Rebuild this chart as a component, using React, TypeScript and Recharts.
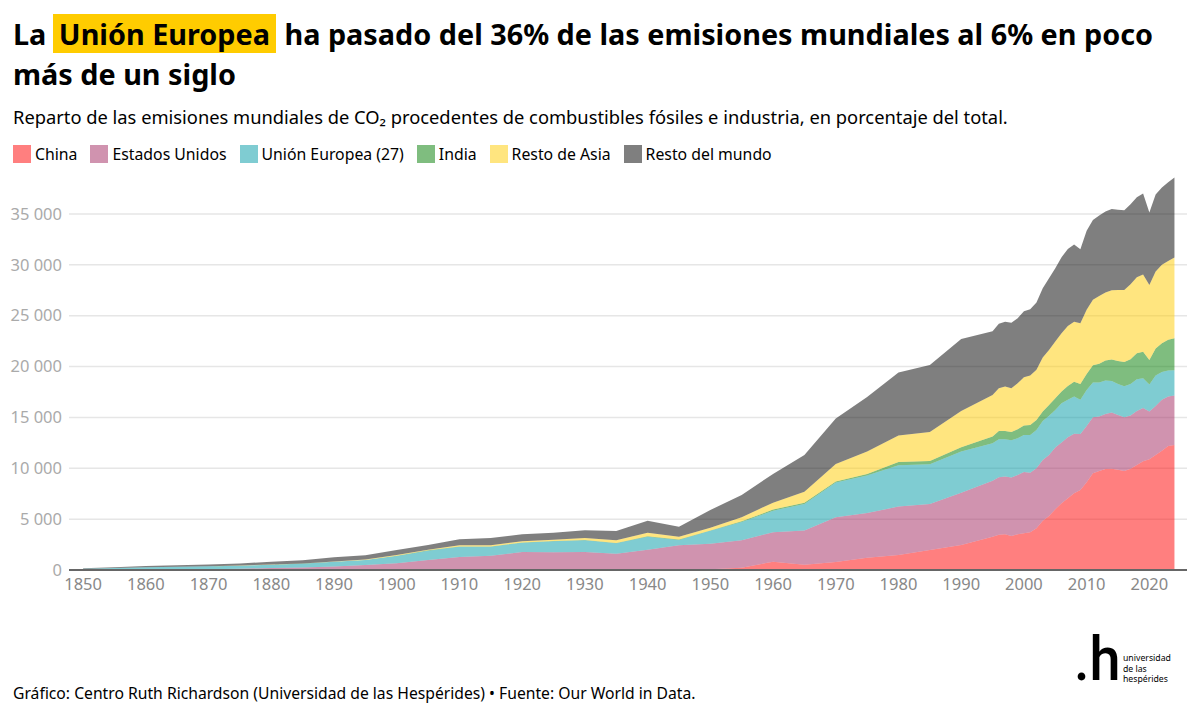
import React from "react";
import { AreaChart, Area, XAxis, YAxis, CartesianGrid, Legend } from "recharts";

const years = [
  1850, 1855, 1860, 1865, 1870, 1875, 1880, 1885, 1890, 1895,
  1900, 1905, 1910, 1915, 1920, 1925, 1930, 1935, 1940, 1945,
  1950, 1955, 1960, 1965, 1970, 1975, 1980, 1985, 1990, 1995,
  1996, 1997, 1998, 1999, 2000, 2001, 2002, 2003, 2004, 2005,
  2006, 2007, 2008, 2009, 2010, 2011, 2012, 2013, 2014, 2015,
  2016, 2017, 2018, 2019, 2020, 2021, 2022, 2023, 2024,
];

const china = [
  0, 0, 0, 0, 0, 0, 0, 0, 0, 0,
  0, 10, 10, 10, 10, 20, 20, 20, 40, 30,
  70, 230, 820, 520, 790, 1210, 1470, 1970, 2460, 3270,
  3470, 3510, 3340, 3510, 3610, 3700, 4100, 4850, 5310, 5970,
  6550, 7050, 7540, 7870, 8620, 9510, 9730, 9930, 9960, 9860,
  9730, 9960, 10320, 10690, 10880, 11310, 11730, 12190, 12290,
];

const estadosUnidos = [
  10, 20, 50, 60, 80, 130, 190, 250, 350, 480,
  660, 970, 1270, 1400, 1760, 1720, 1750, 1580, 1960, 2400,
  2520, 2690, 2890, 3350, 4390, 4390, 4760, 4520, 5140, 5510,
  5640, 5670, 5740, 5830, 6030, 5870, 5900, 5970, 6000, 6060,
  5970, 6000, 5860, 5500, 5540, 5500, 5350, 5410, 5510, 5380,
  5280, 5220, 5310, 5240, 4690, 4820, 4990, 4860, 4850,
];

const unionEuropea = [
  110, 170, 210, 260, 280, 290, 330, 370, 450, 500,
  720, 920, 1010, 880, 910, 1080, 1150, 1020, 1270, 520,
  1270, 1800, 2120, 2620, 3410, 3680, 4060, 3900, 4040, 3670,
  3740, 3670, 3670, 3610, 3630, 3700, 3770, 3830, 3860, 3700,
  3870, 3670, 3640, 3350, 3540, 3410, 3340, 3280, 3110, 3050,
  3050, 3110, 3120, 2920, 2650, 2980, 2750, 2550, 2500,
];

const india = [
  0, 0, 0, 0, 0, 0, 0, 10, 10, 10,
  20, 30, 30, 30, 30, 40, 40, 40, 50, 50,
  30, 70, 110, 130, 100, 160, 330, 330, 420, 660,
  820, 820, 820, 880, 920, 990, 980, 920, 1050, 1150,
  1150, 1370, 1450, 1570, 1570, 1710, 1840, 1960, 2100, 2260,
  2390, 2430, 2550, 2590, 2430, 2670, 2820, 3020, 3140,
];

const restoAsia = [
  5, 5, 10, 10, 10, 15, 20, 20, 30, 40,
  70, 50, 110, 110, 110, 120, 190, 260, 350, 270,
  270, 390, 680, 1080, 1730, 2200, 2590, 2850, 3570, 4090,
  4190, 4360, 4290, 4530, 4760, 4850, 4920, 5310, 5410, 5570,
  5730, 5900, 5900, 5970, 6300, 6420, 6680, 6690, 6820, 6980,
  7080, 7370, 7480, 7600, 7370, 7550, 7700, 7760, 7930,
];

const restoMundo = [
  35, 65, 120, 140, 160, 215, 260, 300, 410, 410,
  500, 480, 590, 720, 690, 690, 750, 910, 1180, 990,
  1740, 2190, 2820, 3600, 4480, 5360, 6190, 6580, 7070, 6270,
  6330, 6360, 6430, 6390, 6480, 6520, 6620, 6820, 7050, 7210,
  7470, 7570, 7600, 7270, 7760, 7860, 7900, 7970, 7970, 7870,
  7830, 7860, 7860, 7960, 7110, 7580, 7610, 7740, 7870,
];

const yearTicks = [
  1850, 1860, 1870, 1880, 1890, 1900, 1910, 1920, 1930,
  1940, 1950, 1960, 1970, 1980, 1990, 2000, 2010, 2020,
];
const valueTicks = [0, 5000, 10000, 15000, 20000, 25000, 30000, 35000];

const series = [
  { key: "china", name: "China", color: "#ff0000" },
  { key: "usa", name: "Estados Unidos", color: "#a12860" },
  { key: "eu", name: "Unión Europea (27)", color: "#0099a5" },
  { key: "india", name: "India", color: "#007b00" },
  { key: "asia", name: "Resto de Asia", color: "#ffcc00" },
  { key: "world", name: "Resto del mundo", color: "#000000" },
];

const data = years.map((year, i) => ({
  year,
  china: china[i],
  usa: estadosUnidos[i],
  eu: unionEuropea[i],
  india: india[i],
  asia: restoAsia[i],
  world: restoMundo[i],
}));

const font = '"Noto Sans", sans-serif';

function ChartLegend() {
  return (
    <div style={{ display: "flex", fontSize: 15.8, lineHeight: "20px", color: "#000" }}>
      {series.map((s) => (
        <div key={s.key} style={{ display: "flex", alignItems: "center", marginRight: 13 }}>
          <span
            style={{
              width: 18,
              height: 18,
              marginRight: 4,
              background: s.color,
              opacity: 0.5,
              display: "inline-block",
            }}
          />
          {s.name}
        </div>
      ))}
    </div>
  );
}

export default function App() {
  return (
    <div
      style={{
        position: "absolute",
        left: 0,
        top: 0,
        width: 1200,
        height: 719,
        background: "#fff",
        fontFamily: font,
        overflow: "hidden",
      }}
    >
      <AreaChart
        width={1200}
        height={719}
        data={data}
        margin={{ top: 163, right: 13, bottom: 99, left: 0 }}
        style={{ position: "absolute", left: 0, top: 0 }}
      >
        <CartesianGrid vertical={false} stroke="#e6e6e6" strokeWidth={1.5} syncWithTicks horizontalValues={valueTicks} />
        <XAxis
          dataKey="year"
          type="number"
          domain={[1847.75, 2026]}
          ticks={yearTicks}
          interval={0}
          height={30}
          tickLine={false}
          axisLine={{ stroke: "#666666", strokeWidth: 2 }}
          tick={{ fill: "#888888", fontSize: 16.5, fontFamily: font }}
          tickMargin={2}
        />
        <YAxis
          width={69}
          domain={[0, 40000]}
          ticks={valueTicks}
          interval={0}
          tickLine={false}
          axisLine={false}
          tick={{ fill: "#aaaaaa", fontSize: 16.5, fontFamily: font }}
          tickMargin={1}
          tickFormatter={(v: number) => String(v).replace(/\B(?=(\d{3})+$)/g, " ")}
        />
        <Legend
          content={() => <ChartLegend />}
          wrapperStyle={{ position: "absolute", left: 13, top: 144, width: 900, height: 20 }}
        />
        {series.map((s) => (
          <Area
            key={s.key}
            dataKey={s.key}
            name={s.name}
            stackId="total"
            type="linear"
            fill={s.color}
            fillOpacity={0.5}
            stroke="none"
            isAnimationActive={false}
          />
        ))}
      </AreaChart>

      <div
        style={{
          position: "absolute",
          left: 13,
          top: 14,
          width: 1170,
          fontSize: 28.8,
          lineHeight: "40px",
          fontWeight: 700,
          color: "#000",
        }}
      >
        La{" "}
        <span style={{ background: "#ffcc00", padding: "0 6px", marginLeft: -1, marginRight: 1 }}>
          Unión Europea
        </span>{" "}
        ha pasado del 36% de las emisiones mundiales al 6% en poco más de un siglo
      </div>
      <div style={{ position: "absolute", left: 13, top: 105, fontSize: 18.32, lineHeight: "24px", color: "#000" }}>
        Reparto de las emisiones mundiales de CO₂ procedentes de combustibles fósiles e industria, en porcentaje del
        total.
      </div>
      <div style={{ position: "absolute", left: 13, top: 682, fontSize: 15.7, lineHeight: "22px", color: "#000" }}>
        Gráfico: Centro Ruth Richardson (Universidad de las Hespérides) • Fuente: Our World in Data.
      </div>

      <div
        style={{
          position: "absolute",
          left: 1074,
          top: 619,
          fontFamily: "Roboto, sans-serif",
          fontSize: 62,
          lineHeight: "80px",
          fontWeight: 500,
          color: "#000",
          transform: "scaleX(0.9)",
          transformOrigin: "left top",
        }}
      >
        .h
      </div>
      <div
        style={{
          position: "absolute",
          left: 1123,
          top: 653,
          fontSize: 8.7,
          lineHeight: "10.5px",
          color: "#000",
        }}
      >
        universidad
        <br />
        de las
        <br />
        hespérides
      </div>
    </div>
  );
}
